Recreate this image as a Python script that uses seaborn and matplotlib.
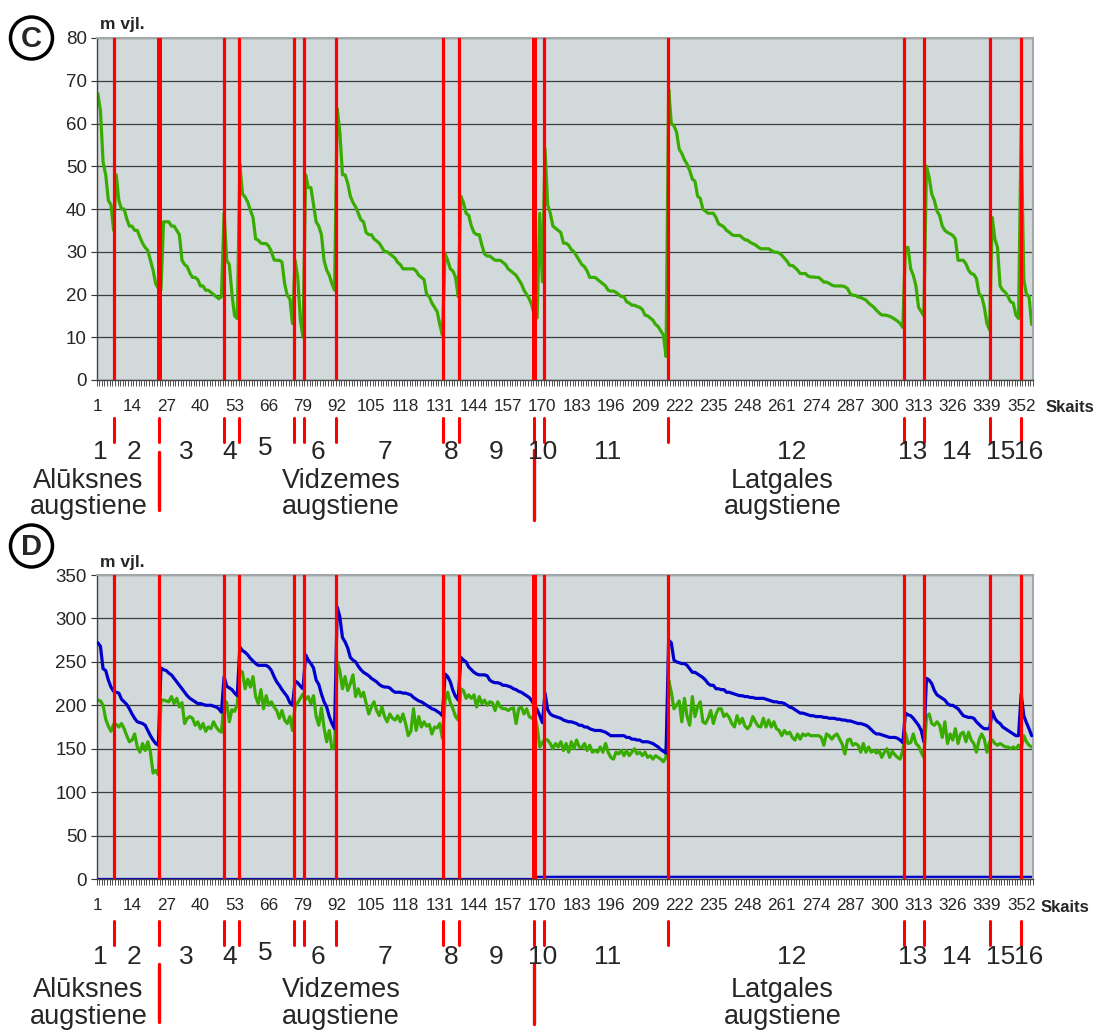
import numpy as np
import pandas as pd
import matplotlib
matplotlib.use("Agg")
import matplotlib.pyplot as plt
import seaborn as sns
from matplotlib.transforms import blended_transform_factory
from matplotlib.patches import Ellipse
from matplotlib.ticker import FixedLocator

sns.set_style("white")
plt.rcParams['font.family'] = ['Liberation Sans', 'DejaVu Sans']

# ---------------- data ----------------
# Panel C: relative height (m vjl.), one value per "Skaits" point, by region
c_green = (
    [67, 63, 51, 48, 42, 41, 35] +
    [48, 42, 40, 40, 37.7, 36, 36, 35, 35, 33.4, 32, 31, 30.3, 28, 25.7, 22.5, 21.5] +
    [21, 37, 37, 37, 36, 36, 35, 34, 28, 27, 26.5, 25, 24, 24, 23.5, 22, 22, 21, 21, 20.5, 20, 19.5, 19, 19.5] +
    [39, 28, 27, 20, 15, 14.4] +
    [50.5, 43.5, 42.8, 41.6, 39.7, 38, 33, 32.7, 32, 31.9, 31.9, 31.3, 30, 28.1, 28, 28, 27.6, 22.6, 19.8, 19, 13.2] +
    [28, 24, 14, 10] +
    [48, 45, 45, 41, 37, 36, 34, 28, 25.7, 24.5, 22.5, 21] +
    [63.5, 58, 48, 48, 46, 43, 41.5, 40.5, 39, 37.5, 37, 34.5, 34, 34, 33, 32.5, 32, 31, 30, 30,
     29.5, 29, 28.5, 27.5, 27, 26, 26, 26, 26, 26, 25.5, 24.5, 24, 23.5, 20, 19.5, 18, 17, 16, 13, 10.5] +
    [29.5, 28, 26, 25.5, 24, 19.5] +
    [43, 41.5, 39, 38.5, 36, 34.5, 34, 34, 31.5, 29.5, 29, 29, 28.5, 28, 28, 28, 27.5, 27, 26, 25.5,
     25, 24.5, 23.5, 22.5, 21, 20, 19, 17.5] +
    [15, 14.5, 39, 23] +
    [54, 41, 39, 36, 35.5, 35, 34.5, 32, 32, 31.5, 30.5, 30, 29, 28, 27, 26.5, 25.5, 24, 24, 24,
     23.5, 23, 22.5, 22, 21, 20.8, 20.8, 20.5, 20, 19.5, 19.5, 18.3, 18, 17.5, 17.5, 17.2, 17, 16.5, 15.2, 15,
     14.5, 14, 13, 12.5, 11.5, 10.5, 5.5] +
    [68, 60, 59.5, 58, 54, 53, 51.5, 50.5, 49, 47, 46.5, 43, 42.5, 40, 39.5, 39, 39, 39, 38, 36.5] +
    [36.2, 35.8, 35, 34.6, 34, 33.8, 33.8, 33.8, 33.3, 32.8, 32.7, 32.2, 31.9, 31.6, 31.1, 30.7, 30.7, 30.7, 30.7, 30.3,
     29.9, 29.9, 29.7, 29.2, 28.5, 27.8, 26.8, 26.8, 26.3, 25.7, 24.9, 24.9, 24.9, 24.3, 24.1, 24.1, 24, 24, 23.5, 22.9,
     22.9, 22.6, 22.2, 22, 22, 22, 22, 21.8, 21.4, 20.2, 19.8, 19.8, 19.4, 19.3, 19, 18.7, 18, 17.5, 17, 16.3,
     15.7, 15.2, 15.2, 15.1, 14.9, 14.6, 14.2, 13.8, 13.2, 12.3] +
    [31, 31, 26, 24.5, 22, 17, 16, 15] +
    [50, 47.5, 43.5, 42, 39.5, 38.5, 36, 35, 34.5, 34.2, 33.8, 33, 28, 28, 28, 27.2, 25.7, 24.9, 24.7, 23.7,
     20.2, 19.5, 17, 13.2, 11.7] +
    [38, 33, 31, 22, 21, 20.5, 19.5, 18.3, 18, 15.2, 14.4] +
    [59, 23.5, 20, 19.5, 13]
)

# Panel D: absolute heights (m vjl.)
d_blue = (
    [272, 268, 242, 240, 229, 221, 216] +
    [215, 214, 207, 204, 201, 196, 190, 185, 181, 180, 179, 177, 171, 165, 160, 156, 154] +
    [243, 241, 240, 237, 235, 231, 227, 223, 219, 215, 211, 208, 206, 204, 202, 202, 201, 200, 200, 200, 199, 198, 196, 192] +
    [233, 222, 220, 218, 214, 211] +
    [267, 263, 261, 258, 254, 251, 248, 246, 246, 246, 246, 244, 240, 233, 227, 223, 218, 214, 210, 203, 200] +
    [228, 226, 222, 219] +
    [258, 252, 248, 243, 229, 224, 213, 204, 198, 187, 179, 173] +
    [313, 302, 278, 273, 266, 255, 252, 250, 245, 241, 238, 236, 234, 231, 229, 227, 224, 222, 221, 221,
     220, 217, 215, 215, 215, 214, 214, 213, 212, 209, 207, 205, 204, 202, 200, 198, 196, 195, 193, 191, 188] +
    [236, 233, 227, 217, 210, 206] +
    [255, 252, 250, 244, 241, 238, 236, 235, 235, 235, 234, 229, 227, 226, 226, 225, 223, 223, 222, 221,
     219, 218, 216, 215, 213, 211, 209, 205] +
    [200, 195, 188, 180] +
    [214, 195, 190, 188, 187, 186, 185, 183, 182, 181, 181, 180, 179, 177, 177, 175, 175, 173, 172, 171,
     171, 171, 170, 169, 167, 165, 165, 165, 165, 165, 165, 163, 163, 161, 161, 160, 160, 158, 158, 158,
     157, 156, 154, 152, 149, 147, 145] +
    [275, 272, 252, 250, 249, 248, 248, 246, 242, 238, 238, 236, 234, 232, 229, 225, 223, 223, 219, 219] +
    [218, 218, 215, 215, 214, 213, 212, 211, 211, 210, 210, 209, 209, 208, 208, 208, 208, 207, 206, 205,
     204, 204, 203, 203, 202, 200, 198, 197, 195, 193, 191, 191, 190, 189, 188, 188, 187, 187, 187, 186,
     186, 185, 185, 185, 184, 184, 183, 183, 182, 182, 181, 180, 179, 179, 178, 177, 175, 172, 169, 167,
     167, 166, 165, 164, 163, 163, 163, 162, 160, 157] +
    [191, 189, 188, 185, 181, 177, 171, 158] +
    [231, 229, 225, 217, 212, 210, 208, 206, 202, 200, 200, 198, 196, 192, 188, 187, 186, 186, 185, 181,
     178, 175, 173, 173, 173] +
    [193, 185, 181, 179, 175, 173, 171, 169, 167, 165, 165] +
    [213, 188, 180, 173, 165]
)

d_green = (
    [206, 205, 200, 184, 176, 170, 178] +
    [178, 175, 179, 173, 165, 158, 160, 167, 152, 146, 156, 148, 158, 146, 122, 125, 120] +
    [206, 206, 205, 204, 210, 202, 208, 198, 203, 179, 185, 187, 185, 177, 181, 173, 179, 170, 175, 173, 181, 175, 171, 169] +
    [206, 203, 181, 195, 193, 201] +
    [240, 238, 219, 230, 221, 233, 210, 202, 218, 196, 211, 200, 204, 198, 194, 185, 194, 183, 179, 187, 171] +
    [199, 203, 208, 213] +
    [207, 210, 202, 211, 187, 177, 197, 174, 158, 171, 150, 152] +
    [250, 240, 219, 233, 217, 225, 235, 210, 219, 210, 215, 202, 190, 198, 204, 194, 188, 198, 187, 181,
     190, 185, 183, 188, 181, 190, 179, 165, 170, 196, 171, 187, 175, 181, 176, 178, 167, 175, 174, 179, 162] +
    [205, 215, 203, 196, 187, 183] +
    [219, 217, 208, 212, 208, 212, 198, 210, 202, 206, 200, 204, 203, 194, 204, 198, 196, 196, 194, 196,
     197, 179, 196, 198, 190, 196, 187, 185] +
    [190, 175, 152, 157] +
    [161, 160, 156, 150, 156, 152, 158, 148, 156, 146, 158, 150, 160, 152, 151, 156, 148, 154, 146, 148,
     146, 152, 146, 156, 146, 140, 138, 146, 144, 148, 142, 148, 142, 146, 150, 144, 146, 142, 146, 140,
     142, 138, 142, 140, 138, 135, 140] +
    [229, 215, 196, 200, 205, 181, 208, 187, 177, 210, 187, 198, 204, 181, 179, 185, 194, 179, 190, 196] +
    [196, 187, 190, 186, 179, 175, 188, 179, 185, 176, 173, 177, 187, 181, 176, 175, 185, 175, 183, 175,
     181, 173, 171, 165, 171, 167, 169, 163, 160, 167, 161, 167, 165, 167, 165, 165, 165, 165, 163, 154,
     167, 165, 161, 165, 167, 161, 155, 144, 160, 161, 154, 156, 154, 146, 156, 146, 152, 146, 148, 145,
     148, 140, 146, 150, 140, 147, 143, 140, 138, 148] +
    [168, 156, 157, 167, 156, 153, 146, 140] +
    [187, 190, 179, 177, 181, 177, 163, 181, 156, 167, 160, 173, 156, 167, 169, 158, 169, 160, 156, 146,
     160, 167, 161, 146, 158] +
    [160, 156, 154, 156, 154, 152, 152, 150, 152, 150, 154] +
    [150, 165, 158, 154, 152]
)

# flat near-zero series in panel D
d_base_levels = [0.0, 2.5]
d_base_counts = [167, 189]

# region boundaries (in Skaits units) and their labels
boundaries = [7.2, 24.1, 48.9, 54.6, 75.7, 79.3, 91.7, 132.2, 138.3, 167.0,
              170.6, 217.9, 307.4, 315.2, 340.2, 351.8]
region_labels = [str(i) for i in range(1, 17)]
region_label_x = [1.8, 14.7, 34.5, 51.2, 64.5, 84.7, 110.1, 135.2, 152.3, 170.2,
                  194.8, 264.7, 310.7, 327.5, 344.2, 354.8]
upland_names = ["Alūksnes", "Vidzemes", "Latgales"]
upland_x = [-2.5, 93.4, 261.3]

x_tick_values = list(range(1, 353, 13))

# ---------------- figure ----------------
W, H = 1101, 1032
fig = plt.figure(figsize=(W / 100, H / 100), dpi=100)


def fy(ypx):
    return 1 - ypx / H


def fx(xpx):
    return xpx / W


GREEN = '#38AC00'
BLUE = '#0000CC'
RED = '#FF0000'
BG = '#D1D9DB'


def setup_axes(top, bottom, ymax, ystep):
    ax = fig.add_axes([fx(96.5), fy(bottom), fx(1033) - fx(96.5), fy(top) - fy(bottom)])
    ax.set_facecolor(BG)
    ax.set_xlim(0.5, 356.5)
    ax.set_ylim(0, ymax)
    ax.set_yticks(np.arange(0, ymax + 1, ystep))
    ax.yaxis.grid(True, color='#3c3c3c', lw=0.9)
    ax.xaxis.grid(False)
    ax.set_axisbelow(True)
    ax.set_xticks(x_tick_values)
    ax.set_xticklabels([str(v) for v in x_tick_values])
    ax.xaxis.set_minor_locator(FixedLocator(np.arange(0.5, 357, 1.0)))
    ax.tick_params(axis='x', which='major', length=0, pad=14, labelsize=12.3, bottom=True)
    ax.tick_params(axis='x', which='minor', length=4, width=0.6, color='#333333',
                   direction='out', bottom=True)
    ax.tick_params(axis='y', which='major', length=4, width=0.8, color='#333333',
                   direction='out', pad=3, labelsize=13.5, left=True)
    for s in ['top', 'right']:
        ax.spines[s].set_color('#A3A8AA')
        ax.spines[s].set_linewidth(1.5)
    for s in ['left', 'bottom']:
        ax.spines[s].set_color('#444444')
        ax.spines[s].set_linewidth(1.0)
    return ax


def draw_series(ax, values, color, lw, z=2):
    df = pd.DataFrame({'Skaits': np.arange(1, len(values) + 1), 'h': values})
    sns.lineplot(data=df, x='Skaits', y='h', ax=ax, color=color, linewidth=lw,
                 errorbar=None, zorder=z, legend=False)
    ax.set_xlabel('')
    ax.set_ylabel('')


def draw_boundaries(ax, thick):
    for i, b in enumerate(boundaries):
        ax.axvline(b, color=RED, lw=3.6 if i in thick else 2.3, zorder=4)


def annotate(ax, y_tickrow, y_red, y_num, y_names, long_lines, letter, letter_y, mvjl_y, skaits_x):
    trans = blended_transform_factory(ax.transData, fig.transFigure)
    for b in boundaries:
        ax.plot([b, b], [fy(y_red[0]), fy(y_red[1])], color=RED, lw=2.2,
                transform=trans, clip_on=False)
    for (bi, y1, y2) in long_lines:
        ax.plot([boundaries[bi], boundaries[bi]], [fy(y1), fy(y2)], color=RED, lw=2.4,
                transform=trans, clip_on=False)
    for lab, xv in zip(region_labels, region_label_x):
        dy = -4 if lab == '5' else 0
        ax.text(xv, fy(y_num + dy), lab, transform=trans, ha='center', va='center',
                fontsize=19, clip_on=False)
    for name, xv in zip(upland_names, upland_x):
        ax.text(xv, fy(y_names[0]), name, transform=trans, ha='center', va='center',
                fontsize=19.5, clip_on=False)
        ax.text(xv, fy(y_names[1]), 'augstiene', transform=trans, ha='center', va='center',
                fontsize=19.5, clip_on=False)
    fig.text(fx(skaits_x), fy(y_tickrow), 'Skaits', ha='left', va='center',
             fontsize=12, fontweight='bold')
    fig.text(fx(100), fy(mvjl_y), 'm vjl.', ha='left', va='center',
             fontsize=12.5, fontweight='bold')
    r = 21
    fig.add_artist(Ellipse((fx(31.5), fy(letter_y)), 2 * r / W, 2 * r / H,
                           transform=fig.transFigure, fill=False, lw=2.5, ec='black'))
    fig.text(fx(31.5), fy(letter_y + 1), letter, ha='center', va='center',
             fontsize=21, fontweight='bold')


# ---- Panel C ----
axC = setup_axes(38, 380, 80, 10)
draw_series(axC, c_green, GREEN, 2.3)
draw_boundaries(axC, thick={1, 9})
annotate(axC, y_tickrow=408, y_red=(418, 442), y_num=452, y_names=(481, 507),
         long_lines=[(1, 452, 510), (9, 450, 520)], letter='C', letter_y=38,
         mvjl_y=24, skaits_x=1046)

# ---- Panel D ----
axD = setup_axes(575, 879, 350, 50)
base = np.repeat(d_base_levels, d_base_counts)
draw_series(axD, base, BLUE, 1.6)
draw_series(axD, d_green, GREEN, 2.3)
draw_series(axD, d_blue, BLUE, 2.3, z=3)
draw_boundaries(axD, thick={9})
annotate(axD, y_tickrow=908, y_red=(921, 945), y_num=957, y_names=(990, 1017),
         long_lines=[(1, 964, 1022), (9, 964, 1024)], letter='D', letter_y=546,
         mvjl_y=563, skaits_x=1041)

fig.savefig('out.png', dpi=100)
